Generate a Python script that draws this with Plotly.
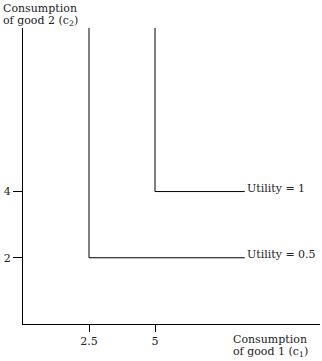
import plotly.graph_objects as go

# Leontief indifference curves: corner points (c1, c2) and utility labels
corner_c1 = [5, 2.5]
corner_c2 = [4, 2]
utility_labels = ["Utility = 1", "Utility = 0.5"]
c1_end = 8.4
c2_top = 8.94

x_ticks = [2.5, 5]
x_ticklabels = ["2.5", "5"]
y_ticks = [2, 4]
y_ticklabels = ["2", "4"]

FONT = "DejaVu Serif"
TXT = dict(family=FONT, size=11, color="#222")

fig = go.Figure()
for cx, cy, lab in zip(corner_c1, corner_c2, utility_labels):
    fig.add_trace(go.Scatter(
        x=[cx, cx, c1_end], y=[c2_top, cy, cy],
        mode="lines", line=dict(color="black", width=1),
        showlegend=False, hoverinfo="skip"))
    fig.add_annotation(x=c1_end, y=cy, text=lab, showarrow=False,
                       xanchor="left", yanchor="middle", xshift=1, yshift=3,
                       borderpad=0, font=TXT)

fig.update_layout(
    width=322, height=361,
    margin=dict(l=23, r=2, t=28, b=37),
    paper_bgcolor="white", plot_bgcolor="white",
    font=TXT,
    xaxis=dict(range=[0, 11.25], tickvals=x_ticks, ticktext=x_ticklabels,
               showgrid=False, zeroline=False, showline=True, linecolor="black",
               linewidth=1, ticks="outside", ticklen=7, tickcolor="black",
               tickfont=TXT),
    yaxis=dict(range=[0, 8.94], tickvals=y_ticks, ticktext=y_ticklabels,
               showgrid=False, zeroline=False, showline=True, linecolor="black",
               linewidth=1, ticks="outside", ticklen=9, tickcolor="black",
               tickfont=TXT),
)

# Axis titles, one annotation per line for tight line spacing
y_title = ["Consumption", "of good 2 (c<sub>2</sub>)"]
x_title = ["Consumption", "of good 1 (c<sub>1</sub>)"]
for txt, ys in zip(y_title, [20, 7]):
    fig.add_annotation(xref="paper", yref="paper", x=-23/297, y=1, yshift=ys,
                       xshift=2, text=txt, showarrow=False, xanchor="left",
                       yanchor="middle", borderpad=0, font=TXT)
for txt, ys in zip(x_title, [-15, -28]):
    fig.add_annotation(xref="paper", yref="paper", x=(234-23)/297, y=0,
                       yshift=ys, xshift=-2, text=txt, showarrow=False,
                       xanchor="left", yanchor="middle", borderpad=0, font=TXT)

fig.write_html("out.html")
